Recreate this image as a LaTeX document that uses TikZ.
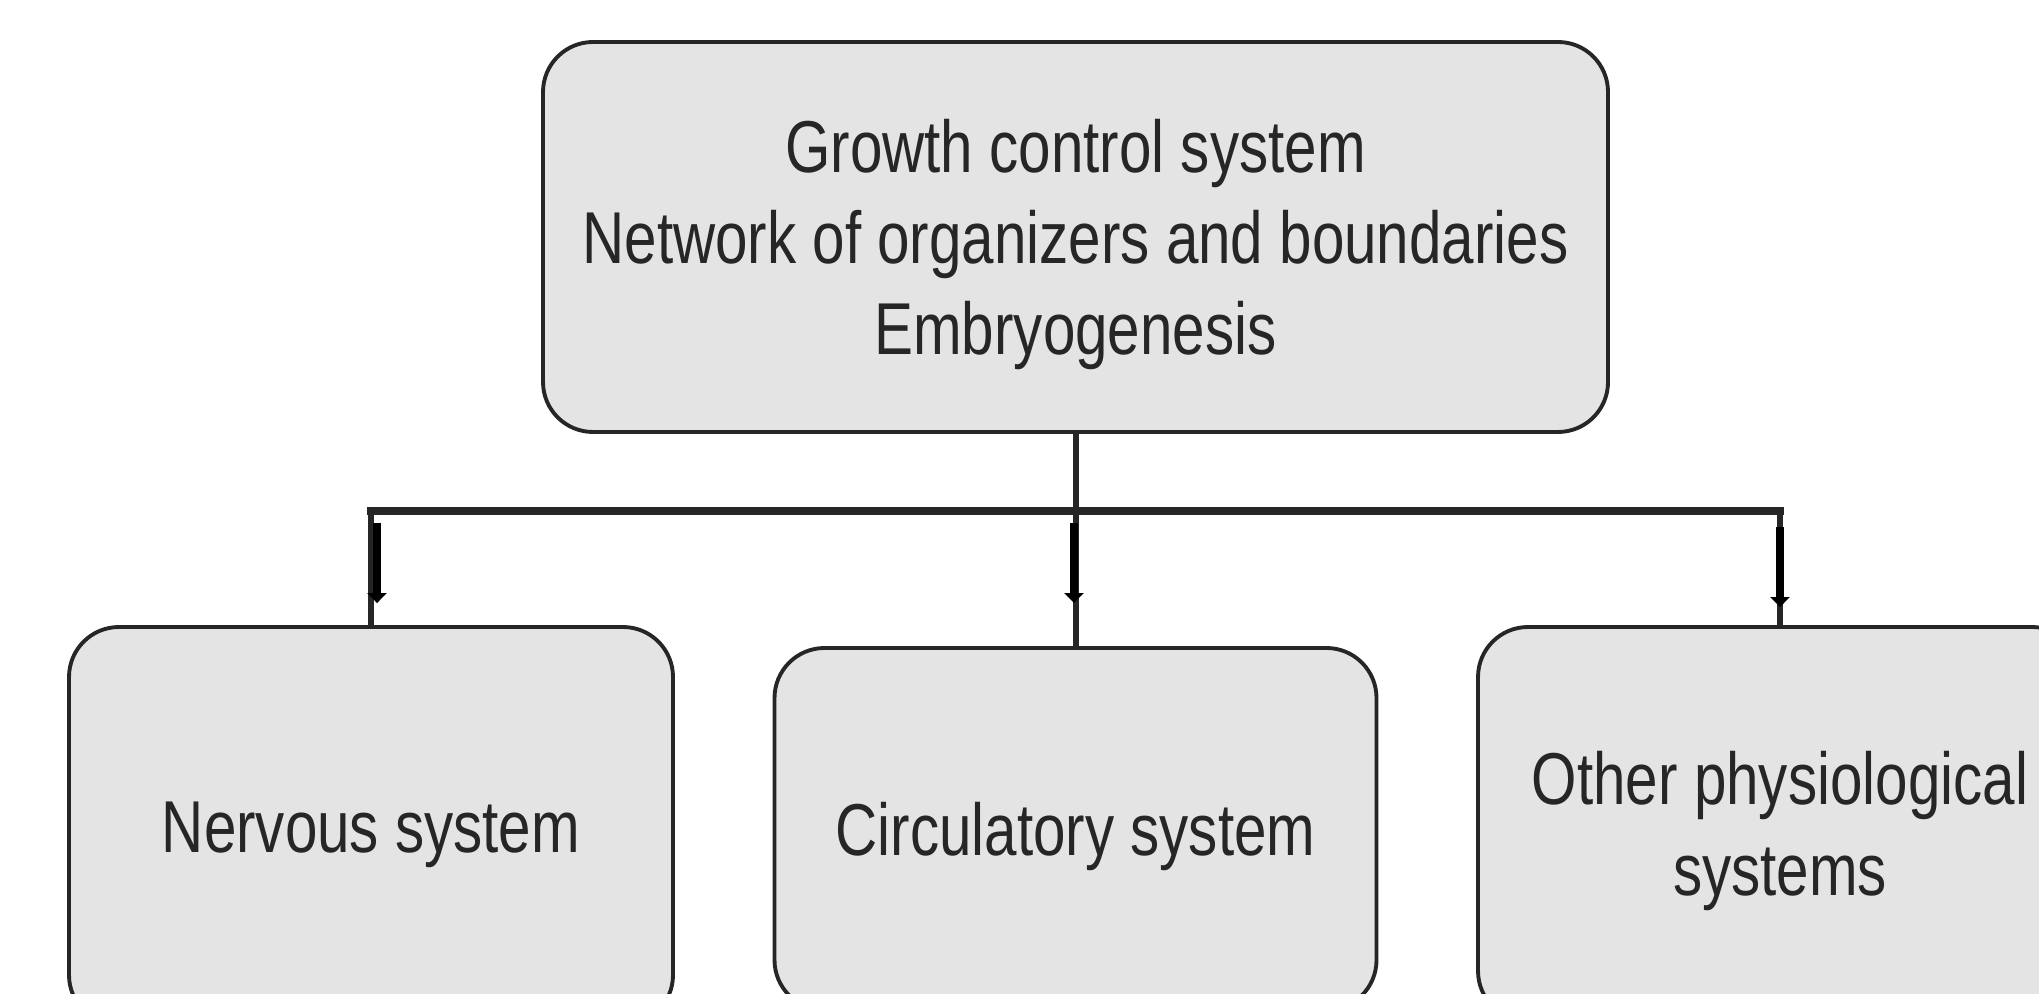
\documentclass[tikz,border=0pt]{standalone}
\usepackage{fontspec}
\usepackage{graphicx}
\setmainfont{Liberation Sans}
\usetikzlibrary{arrows.meta}
\definecolor{boxgray}{HTML}{E4E4E4}
\definecolor{inkgray}{HTML}{262626}
% taller letters, as in the figure
\newcommand{\talltext}[1]{\raisebox{-2.3pt}[\height][\depth]{\scalebox{1}[1.26]{\begin{tabular}{@{}c@{}}#1\end{tabular}}}}

\begin{document}
\begin{tikzpicture}[
    sysbox/.style={draw=inkgray, line width=1.1pt, fill=boxgray, rounded corners=0.5cm,
      inner sep=0pt, text=inkgray, font=\fontsize{16.6}{20.5}\selectfont},
    link/.style={draw=inkgray, line width=1.7pt},
    busline/.style={draw=inkgray, line width=2.3pt, line cap=rect},
    pointer/.style={draw=black, line width=2.3pt, -{Triangle[width=0.19cm,length=0.1cm]}}
  ]
  \useasboundingbox (0,0) rectangle (20.39,9.93);
  \clip (0,0) rectangle (20.39,9.93);

  % Top box
  \node[sysbox, minimum width=10.65cm, minimum height=3.90cm] (growth) at (10.755,7.56)
    {\talltext{Growth control system\\Network of organizers and boundaries\\Embryogenesis}};

  % Lower boxes (cut off by the page edge)
  \node[sysbox, minimum width=6.04cm, minimum height=3.98cm] (nerv) at (3.71,1.67) {\talltext{Nervous system}};
  \node[sysbox, minimum width=6.02cm, minimum height=3.62cm] (circ) at (10.755,1.64) {\talltext{Circulatory system}};
  \node[sysbox, minimum width=6.04cm, minimum height=3.94cm] (other) at (17.80,1.69) {\talltext{Other physiological\\systems}};

  % Branching bar
  \coordinate (busL) at (3.71,4.82);
  \coordinate (busR) at (17.80,4.82);
  \coordinate (busC) at (growth.south |- busL);
  \draw[busline] (busL) -- (busR);
  \draw[link] (growth.south) -- (circ.north);
  \draw[link] (busL) -- (nerv.north);
  \draw[link] (busR) -- (other.north);

  % Arrows
  \draw[pointer] ([xshift=0.6mm,yshift=-1.2mm]busL) -- ([xshift=0.6mm,yshift=2.2mm]nerv.north);
  \draw[pointer] ([xshift=-0.15mm,yshift=-1.2mm]busC) -- ([xshift=-0.15mm,yshift=4.3mm]circ.north);
  \draw[pointer] ([yshift=-1.6mm]busR) -- ([yshift=1.8mm]other.north);
\end{tikzpicture}
\end{document}
